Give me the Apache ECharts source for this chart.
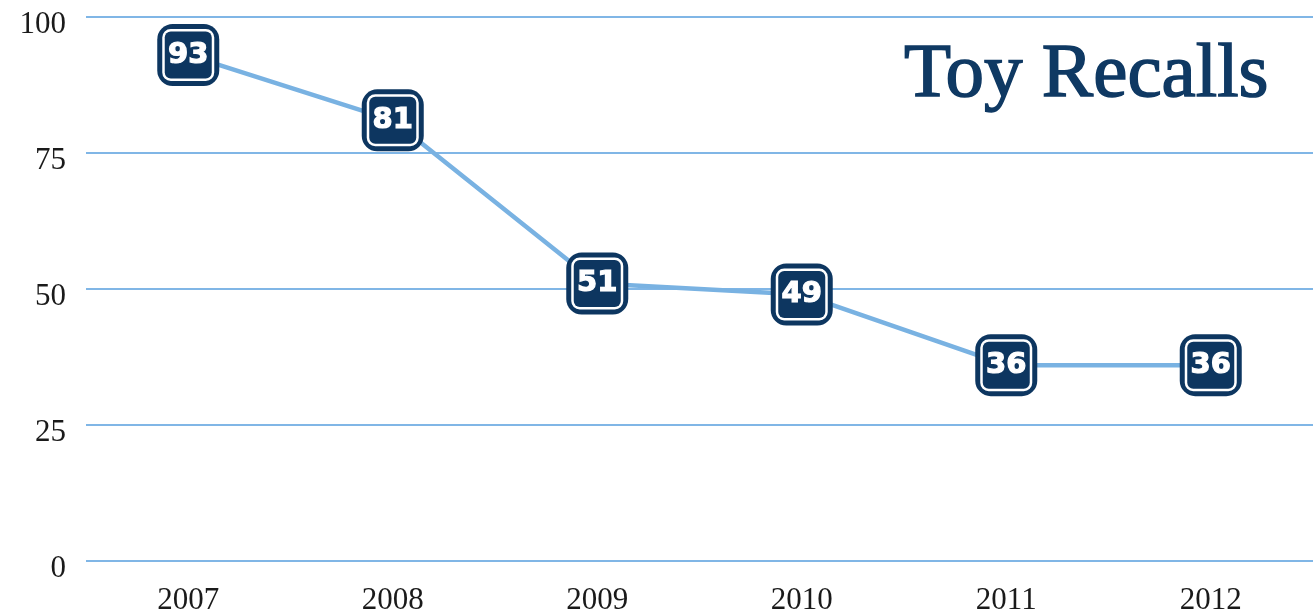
<!DOCTYPE html>
<html><head><meta charset="utf-8">
<script src="https://cdn.jsdelivr.net/npm/echarts@6/dist/echarts.min.js"></script>
<style>html,body{margin:0;padding:0;background:#fff}#c{width:1315px;height:613px}</style>
</head><body><div id="c"></div>
<script>
const years = ['2007','2008','2009','2010','2011','2012'];
const recalls = [93, 81, 51, 49, 36, 36];
const yTicks = [0, 25, 50, 75, 100];

const navy = '#0d3660';
const chart = echarts.init(document.getElementById('c'));
chart.setOption({
  animation: false,
  title: {
    text: 'Toy Recalls', right: 40, top: 32,
    textStyle: {fontFamily: 'Liberation Serif', fontSize: 77, fontWeight: 'normal', color: '#0f3963',
      textBorderColor: '#0f3963', textBorderWidth: 1.5}
  },
  grid: {left: 86, right: 2, top: 17, bottom: 52, containLabel: false, outerBoundsMode: 'none'},
  xAxis: {
    type: 'category', data: years, boundaryGap: true,
    axisLine: {show: false}, axisTick: {show: false},
    splitLine: {show: false},
    axisLabel: {fontFamily: 'Liberation Serif', fontSize: 31, color: '#1a1a1a', margin: 24}
  },
  yAxis: {
    type: 'value', min: yTicks[0], max: yTicks[yTicks.length-1], interval: 25,
    axisLine: {show: false}, axisTick: {show: false},
    splitLine: {show: true, lineStyle: {color: '#80b6e6', width: 2, type: 'solid', opacity: 1}},
    axisLabel: {fontFamily: 'Liberation Serif', fontSize: 31, color: '#1a1a1a', margin: 20,
      verticalAlign: 'top', lineHeight: 16}
  },
  series: [{
    type: 'line', data: recalls,
    lineStyle: {color: '#79b2e2', width: 4.5},
    symbol: 'roundRect', symbolSize: 62,
    itemStyle: {color: navy},
    label: {
      show: true, position: 'inside',
      width: 47, height: 47, lineHeight: 47, align: 'center', verticalAlign: 'middle',
      backgroundColor: navy, borderColor: '#ffffff', borderWidth: 2.5, borderRadius: 6,
      color: '#ffffff', fontFamily: 'DejaVu Sans', fontWeight: 'bold', fontSize: 29,
      textBorderColor: '#ffffff', textBorderWidth: 1.2
    }
  }]
});
</script></body></html>
